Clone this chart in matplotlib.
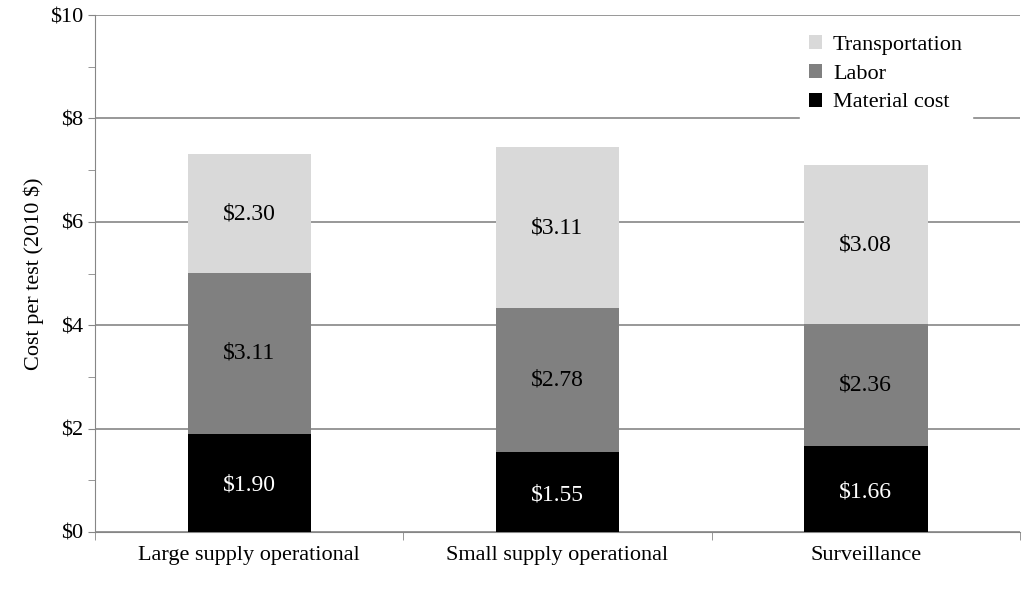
import matplotlib
matplotlib.use("Agg")
import matplotlib.pyplot as plt
import numpy as np

categories = ["Large supply operational", "Small supply operational", "Surveillance"]
material = [1.90, 1.55, 1.66]
labor = [3.11, 2.78, 2.36]
transport = [2.30, 3.11, 3.08]

plt.rcParams["font.family"] = "Liberation Serif"
fig = plt.figure(figsize=(10.24, 5.89), dpi=100)
ax = fig.add_axes([95/1024, 1-532/589, 925/1024, 517/589])
x = np.arange(len(categories))
w = 0.4
m = np.array(material); l = np.array(labor); t = np.array(transport)
ax.bar(x, m, w, color="black", label="Material cost", zorder=3)
ax.bar(x, l, w, bottom=m, color="#808080", label="Labor", zorder=3)
ax.bar(x, t, w, bottom=m+l, color="#d9d9d9", label="Transportation", zorder=3)
for i in range(len(x)):
    ax.text(x[i], m[i]/2 - 0.05, f"${m[i]:.2f}", ha="center", va="center", color="white", fontsize=17, zorder=4)
    ax.text(x[i], m[i]+l[i]/2, f"${l[i]:.2f}", ha="center", va="center", color="black", fontsize=17, zorder=4)
    ax.text(x[i], m[i]+l[i]+t[i]/2, f"${t[i]:.2f}", ha="center", va="center", color="black", fontsize=17, zorder=4)
ax.set_xlim(-0.5, 2.5)
ax.set_ylim(0, 10)
ax.set_yticks(range(0, 11, 2))
ax.set_yticklabels([f"${v}" for v in range(0, 11, 2)], fontsize=16)
ax.set_yticks(range(0, 11), minor=True)
ax.set_xticks(x)
ax.set_xticklabels(categories, fontsize=16)
ax.set_xticks([-0.5, 0.5, 1.5, 2.5], minor=True)
ax.tick_params(axis="x", which="major", length=0, pad=10)
ax.tick_params(axis="x", which="minor", length=6, color="#868686")
ax.tick_params(axis="y", which="both", length=5, color="#868686", direction="out")
ax.grid(axis="y", which="major", color="#868686", linewidth=1.2, zorder=0)
for s in ["top", "right"]:
    ax.spines[s].set_visible(False)
for s in ["left", "bottom"]:
    ax.spines[s].set_color("#868686")
ax.set_ylabel("Cost per test (2010 $)", fontsize=16)
h, lb = ax.get_legend_handles_labels()
leg = ax.legend(h[::-1], lb[::-1], loc="upper right", bbox_to_anchor=(0.96, 1.0), fontsize=16,
                frameon=True, fancybox=False, edgecolor="white", framealpha=1,
                handlelength=0.6, handleheight=0.6, handletextpad=0.5, labelspacing=0.4)
leg.set_zorder(5)
fig.savefig("out.png", dpi=100)
